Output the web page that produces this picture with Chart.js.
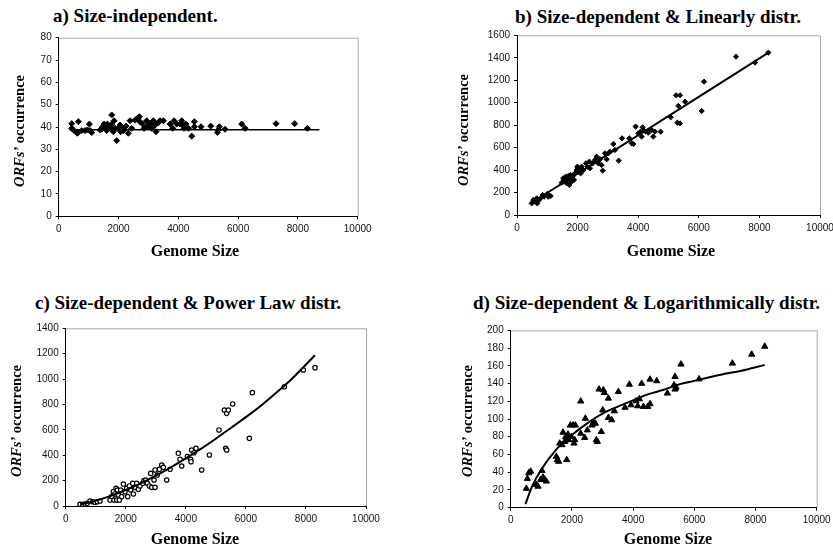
<!DOCTYPE html>
<html>
<head>
<meta charset="utf-8">
<title>ORFs' occurrence vs genome size</title>
<script src="https://cdn.jsdelivr.net/npm/chart.js@4.4.1/dist/chart.umd.min.js"></script>
<style>
  html, body { margin: 0; padding: 0; background: #fff; }
  body { width: 833px; height: 548px; position: relative; overflow: hidden; }
  canvas { position: absolute; }
  .heading { position: absolute; white-space: nowrap; line-height: 1;
             font: bold 19px 'Liberation Serif', 'Times New Roman', serif; }
  .xlabel { position: absolute; white-space: nowrap; line-height: 1; transform: translateX(-50%);
            font: bold 16px 'Liberation Serif', 'Times New Roman', serif; }
  .ylabel { position: absolute; white-space: nowrap; line-height: 1;
            transform: translate(-50%, -50%) rotate(-90deg);
            font: bold 14.5px 'Liberation Serif', 'Times New Roman', serif; }
</style>
</head>
<body>

<div class="heading" style="left:53px; top:5px">a) Size-independent.</div>
<div class="heading" style="left:515px; top:6px">b) Size-dependent &amp; Linearly distr.</div>
<div class="heading" style="left:35px; top:292px">c) Size-dependent &amp; Power Law distr.</div>
<div class="heading" style="left:473px; top:292px">d) Size-dependent &amp; Logarithmically distr.</div>

<canvas id="chartA" width="416" height="274" style="left:0; top:0"></canvas>
<canvas id="chartB" width="430" height="274" style="left:416px; top:0"></canvas>
<canvas id="chartC" width="416" height="274" style="left:0; top:274px"></canvas>
<canvas id="chartD" width="430" height="274" style="left:416px; top:274px"></canvas>

<div class="xlabel" style="left:195px; top:242px">Genome Size</div>
<div class="xlabel" style="left:671px; top:242px">Genome Size</div>
<div class="xlabel" style="left:195px; top:530px">Genome Size</div>
<div class="xlabel" style="left:668px; top:530px">Genome Size</div>

<div class="ylabel" style="left:19px; top:131px"><i>ORFs’</i> occurrence</div>
<div class="ylabel" style="left:463px; top:130px"><i>ORFs’</i> occurrence</div>
<div class="ylabel" style="left:16px; top:421px"><i>ORFs’</i> occurrence</div>
<div class="ylabel" style="left:467px; top:421px"><i>ORFs’</i> occurrence</div>

<script>
'use strict';

// a) size-independent ORFs
const sizesA = [435, 435, 513, 602, 624, 658, 770, 880, 960, 1026, 1048, 1104, 1382, 1438, 1472, 1516, 1583, 1605, 1628, 1661,
  1717, 1773, 1773, 1806, 1828, 1851, 1884, 1940, 1996, 2029, 2051, 2073, 2107, 2163, 2252, 2330, 2386, 2441, 2553, 2631,
  2698, 2720, 2809, 2854, 2943, 2965, 3055, 3110, 3166, 3222, 3255, 3333, 3389, 3501, 3724, 3813, 3858, 3946, 4058, 4114,
  4147, 4192, 4259, 4337, 4448, 4537, 4537, 4760, 5084, 5307, 5340, 5373, 5563, 6120, 6232, 7269, 7893, 8317];
const orfsA = [41.5, 39.4, 38.4, 37.5, 37.2, 42.4, 38.4, 38.4, 38.7, 41.3, 38.4, 37.5, 38.7, 39.0, 40.1, 41.3, 40.1, 38.4, 41.3, 39.4,
  40.1, 45.4, 41.3, 38.7, 37.9, 42.8, 39.4, 33.9, 39.4, 39.0, 40.9, 37.9, 39.4, 38.4, 40.4, 37.2, 42.8, 39.4, 43.1, 43.9,
  44.6, 42.4, 41.3, 39.4, 42.8, 40.1, 41.6, 39.4, 42.8, 40.9, 37.9, 41.9, 42.8, 42.8, 41.3, 39.4, 42.8, 41.3, 41.3, 42.8,
  40.9, 39.4, 41.3, 39.4, 35.9, 40.1, 42.4, 40.1, 40.4, 37.5, 38.7, 40.1, 39.0, 41.3, 39.4, 41.5, 41.5, 39.4];
const flatTrendX = [370, 8720];
const flatTrendY = [38.8, 38.8];

// b) linearly distributed
const sizesB = [484, 539, 594, 649, 671, 704, 759, 847, 891, 1001, 1034, 1111, 1474, 1529, 1551, 1606, 1639, 1661, 1694, 1727,
  1749, 1771, 1804, 1837, 1881, 1914, 1969, 1991, 2024, 2057, 2101, 2134, 2189, 2277, 2321, 2387, 2409, 2497, 2574, 2629,
  2684, 2739, 2794, 2827, 2904, 2959, 3014, 3069, 3179, 3234, 3355, 3465, 3707, 3784, 3839, 3916, 4004, 4081, 4114, 4147,
  4191, 4257, 4334, 4444, 4499, 4554, 4741, 5072, 5248, 5380, 5325, 5292, 5380, 5545, 6095, 6172, 7228, 7855, 8295];
const orfsB = [104, 134, 119, 148, 104, 134, 142, 178, 163, 187, 163, 169, 288, 326, 297, 341, 282, 312, 347, 267,
  318, 356, 297, 341, 312, 371, 401, 430, 386, 416, 371, 430, 401, 460, 430, 475, 416, 460, 490, 519,
  460, 496, 445, 395, 549, 496, 549, 564, 632, 579, 484, 683, 683, 638, 632, 787, 727, 742, 698, 781,
  751, 742, 733, 757, 698, 742, 742, 870, 1066, 1066, 971, 822, 816, 1009, 926, 1187, 1410, 1357, 1446];
const linTrendX = [430, 8300];
const linTrendY = [100, 1445];

// c) power law
const sizesC = [477, 566, 644, 721, 810, 899, 977, 1054, 1143, 1476, 1532, 1587, 1609, 1643, 1676, 1698, 1720, 1754, 1787,
  1831, 1865, 1920, 1976, 2031, 2064, 2120, 2164, 2231, 2253, 2308, 2364, 2419, 2475, 2564, 2608, 2664, 2719, 2786, 2830,
  2864, 2941, 2975, 2975, 3052, 3119, 3197, 3252, 3363, 3474, 3751, 3807, 3862, 4051, 4162, 4173, 4195, 4273, 4340, 4528,
  4784, 5105, 5283, 5361, 5416, 5327, 5361, 5561, 6115, 6215, 7281, 7913, 8302];
const orfsC = [13, 13, 16, 21, 39, 34, 29, 34, 39, 47, 74, 113, 47, 95, 139, 47, 126, 87, 47,
  126, 74, 173, 113, 139, 74, 158, 126, 179, 95, 147, 179, 131, 158, 179, 200, 205, 179, 158, 257,
  147, 205, 284, 147, 244, 289, 323, 305, 205, 289, 415, 368, 315, 389, 368, 349, 441, 420, 454, 284,
  402, 599, 756, 730, 756, 454, 441, 804, 533, 893, 940, 1072, 1090];
const powTrendX = [480, 1000, 1500, 2000, 2500, 3000, 3500, 4000, 4500, 5000, 5500, 6000, 6500, 7000, 7500, 8300];
const powTrendY = [13, 42, 80, 126, 179, 239, 305, 376, 450, 530, 615, 700, 790, 890, 995, 1188];

// d) logarithmic
const sizesD = [512, 545, 588, 653, 838, 893, 980, 1024, 1056, 1111, 1165, 1492, 1525, 1568, 1601, 1677, 1710, 1764, 1797, 1830,
  1873, 1895, 1949, 1982, 2036, 2069, 2091, 2113, 2290, 2287, 2418, 2439, 2505, 2657, 2701, 2766, 2798, 2831, 2962, 2887,
  3028, 3061, 3192, 3007, 3192, 3301, 3388, 3519, 3736, 3878, 3932, 4096, 4150, 4205, 4281, 4336, 4477, 4553, 4553, 4771,
  5120, 5370, 5338, 5403, 5370, 5566, 6154, 7245, 7876, 8301];
const orfsD = [21.6, 32.8, 39.1, 41, 26, 24, 31.7, 41.7, 34.3, 31.7, 29.8, 57.7, 54, 52.1, 72.6, 70.8, 84.9, 74.5, 80, 54,
  82.7, 76.4, 93, 80, 93, 72.6, 76.4, 93, 120, 83.8, 79, 100.6, 87.5, 93, 96, 95, 76.4, 74.5, 85.7, 133.5,
  132.7, 129.7, 123.3, 110, 101.5, 98.9, 109, 130.8, 113, 139, 115.8, 120.3, 114.7, 122.6, 140, 114, 114, 144.7, 117, 142.9,
  129, 147.7, 138.3, 135.7, 133.5, 161.7, 145, 162.8, 172.8, 181.8];
const logTrendX = [480, 700, 1000, 1500, 2000, 2500, 3000, 3500, 4000, 4500, 5000, 5500, 6000, 6500, 7000, 7500, 8300];
const logTrendY = [4, 24, 43, 66, 82, 95, 106, 114, 121, 128, 133, 139, 143, 147, 151, 154, 161];

// axis ranges
const xMax = 10000, xStep = 2000;
const yRangeA = [80, 10];
const yRangeB = [1600, 200];
const yRangeC = [1400, 200];
const yRangeD = [200, 20];

const Y_AXIS_W = 40;
const X_AXIS_H = 25;

const toPoints = (xs, ys) => xs.map((x, i) => ({ x: x, y: ys[i] }));

// light grey top/right border of the plot area, under the black axes
const plotFrame = {
  id: 'plotFrame',
  beforeDraw(chart) {
    const { ctx, chartArea } = chart;
    ctx.save();
    ctx.strokeStyle = '#a8a8a8';
    ctx.lineWidth = 1;
    ctx.beginPath();
    ctx.moveTo(chartArea.left, chartArea.top + 0.5);
    ctx.lineTo(chartArea.right + 0.5, chartArea.top + 0.5);
    ctx.lineTo(chartArea.right + 0.5, chartArea.bottom);
    ctx.stroke();
    ctx.restore();
  }
};

const tickFont = { family: "'Liberation Sans', Arial, sans-serif", size: 10 };

function generateChart(id, box, area, points, marker, trend, trendWidth, yRange) {
  const ctx = document.getElementById(id);
  return new Chart(ctx, {
    type: 'scatter',
    data: {
      datasets: [{
        data: points,
        pointStyle: marker.style,
        pointRadius: marker.radius,
        backgroundColor: marker.fill,
        borderColor: '#000',
        borderWidth: marker.border,
        order: 1,
      }, {
        data: trend,
        showLine: true,
        pointRadius: 0,
        borderColor: '#000',
        borderWidth: trendWidth,
        tension: 0.4,
        cubicInterpolationMode: 'monotone',
        order: 0,
      }]
    },
    options: {
      responsive: false,
      animation: false,
      events: [],
      layout: {
        padding: {
          left: area.left - box.x - Y_AXIS_W,
          top: area.top - box.y,
          right: box.x + box.w - area.right,
          bottom: box.y + box.h - area.bottom - X_AXIS_H,
        }
      },
      plugins: { legend: { display: false }, tooltip: { enabled: false } },
      scales: {
        x: {
          type: 'linear', min: 0, max: xMax,
          afterFit: s => { s.height = X_AXIS_H; },
          ticks: { stepSize: xStep, autoSkip: false, maxRotation: 0, color: '#111', font: tickFont,
                   padding: 4, callback: v => String(v) },
          grid: { drawOnChartArea: false, tickLength: 3, color: '#000' },
          border: { color: '#000', width: 1 },
        },
        y: {
          type: 'linear', min: 0, max: yRange[0],
          afterFit: s => { s.width = Y_AXIS_W; },
          ticks: { stepSize: yRange[1], autoSkip: false, color: '#111', font: tickFont,
                   padding: 4, callback: v => String(v) },
          grid: { drawOnChartArea: false, tickLength: 3, color: '#000' },
          border: { color: '#000', width: 1 },
        }
      }
    },
    plugins: [plotFrame]
  });
}

generateChart('chartA',
  { x: 0, y: 0, w: 416, h: 274 }, { left: 58.7, top: 37.7, right: 357.7, bottom: 216.3 },
  toPoints(sizesA, orfsA), { style: 'rectRot', radius: 3, fill: '#000', border: 1 },
  toPoints(flatTrendX, flatTrendY), 1.5, yRangeA);

generateChart('chartB',
  { x: 416, y: 0, w: 430, h: 274 }, { left: 517, top: 35.3, right: 820, bottom: 215 },
  toPoints(sizesB, orfsB), { style: 'rectRot', radius: 2.6, fill: '#000', border: 1 },
  toPoints(linTrendX, linTrendY), 2, yRangeB);

generateChart('chartC',
  { x: 0, y: 274, w: 416, h: 274 }, { left: 65.7, top: 328.3, right: 366, bottom: 506 },
  toPoints(sizesC, orfsC), { style: 'circle', radius: 2.2, fill: '#fff', border: 1.2 },
  toPoints(powTrendX, powTrendY), 2, yRangeC);

generateChart('chartD',
  { x: 416, y: 274, w: 430, h: 274 }, { left: 510.7, top: 330.3, right: 816.7, bottom: 507.7 },
  toPoints(sizesD, orfsD), { style: 'triangle', radius: 3.6, fill: '#000', border: 1 },
  toPoints(logTrendX, logTrendY), 2, yRangeD);
</script>
</body>
</html>
